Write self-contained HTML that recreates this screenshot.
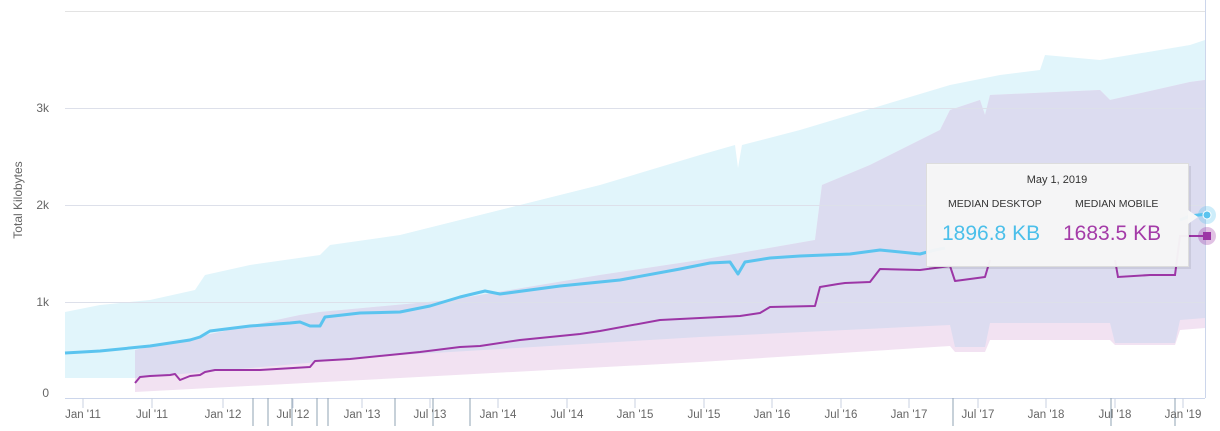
<!DOCTYPE html><html><head><style>body{margin:0;background:#fff;font-family:"Liberation Sans",sans-serif}</style></head><body>
<svg width="1220" height="426" xmlns="http://www.w3.org/2000/svg" font-family="Liberation Sans, sans-serif">
<defs>
<clipPath id="dk"><polygon points="65,312 100,305 150,300 195,290 205,275 250,265 320,255 330,245 400,235 480,215 600,185 700,155 735,145 738,168 742,145 800,130 900,100 950,85 1000,75 1040,70 1045,55 1100,60 1190,45 1205,40 1205,318 1180,320 1175,343 1115,343 1110,323 990,323 985,347 955,347 950,325 700,337 400,355 135,378 65,378"/></clipPath>
</defs>
<g stroke="#e3e3e3" stroke-width="1">
<line x1="65" y1="11.5" x2="1205" y2="11.5"/><line x1="65" y1="108.5" x2="1205" y2="108.5"/><line x1="65" y1="205.5" x2="1205" y2="205.5"/><line x1="65" y1="302.5" x2="1205" y2="302.5"/>
</g>
<polygon fill="#e1f5fb" points="65,312 100,305 150,300 195,290 205,275 250,265 320,255 330,245 400,235 480,215 600,185 700,155 735,145 738,168 742,145 800,130 900,100 950,85 1000,75 1040,70 1045,55 1100,60 1190,45 1205,40 1205,318 1180,320 1175,343 1115,343 1110,323 990,323 985,347 955,347 950,325 700,337 400,355 135,378 65,378"/>
<polygon id="mb" fill="#f2e2f2" points="135,350 300,315 320,312 450,300 600,275 700,260 815,240 822,185 870,165 900,150 940,130 950,110 980,100 985,115 990,95 1100,90 1110,100 1190,82 1205,80 1205,328 1180,330 1175,345 1115,345 1110,340 990,340 985,352 955,352 950,346 700,362 400,378 135,392"/>
<g clip-path="url(#dk)"><polygon fill="#dcdcf0" points="135,350 300,315 320,312 450,300 600,275 700,260 815,240 822,185 870,165 900,150 940,130 950,110 980,100 985,115 990,95 1100,90 1110,100 1190,82 1205,80 1205,328 1180,330 1175,345 1115,345 1110,340 990,340 985,352 955,352 950,346 700,362 400,378 135,392"/></g>
<g stroke="#dde0ea" stroke-width="1">
<line x1="65" y1="302.5" x2="1205" y2="302.5"/><line x1="65" y1="205.5" x2="1205" y2="205.5"/><line x1="65" y1="108.5" x2="1205" y2="108.5"/></g>
<line x1="65" y1="398.5" x2="1205" y2="398.5" stroke="#ccd6eb"/>
<line x1="1205.5" y1="0" x2="1205.5" y2="398" stroke="#ccd6eb"/>
<g stroke="#c8d2e0"><line x1="83" y1="398" x2="83" y2="408"/><line x1="152" y1="398" x2="152" y2="408"/><line x1="223" y1="398" x2="223" y2="408"/><line x1="293" y1="398" x2="293" y2="408"/><line x1="362" y1="398" x2="362" y2="408"/><line x1="430" y1="398" x2="430" y2="408"/><line x1="498" y1="398" x2="498" y2="408"/><line x1="567" y1="398" x2="567" y2="408"/><line x1="635" y1="398" x2="635" y2="408"/><line x1="704" y1="398" x2="704" y2="408"/><line x1="772" y1="398" x2="772" y2="408"/><line x1="841" y1="398" x2="841" y2="408"/><line x1="909" y1="398" x2="909" y2="408"/><line x1="978" y1="398" x2="978" y2="408"/><line x1="1046" y1="398" x2="1046" y2="408"/><line x1="1115" y1="398" x2="1115" y2="408"/><line x1="1183" y1="398" x2="1183" y2="408"/></g>
<g stroke="#8fa3b3"><line x1="253" y1="398" x2="253" y2="426"/><line x1="268" y1="398" x2="268" y2="426"/><line x1="292" y1="398" x2="292" y2="426"/><line x1="317" y1="398" x2="317" y2="426"/><line x1="328" y1="398" x2="328" y2="426"/><line x1="395" y1="398" x2="395" y2="426"/><line x1="433" y1="398" x2="433" y2="426"/><line x1="470" y1="398" x2="470" y2="426"/><line x1="953" y1="398" x2="953" y2="426"/><line x1="1111" y1="398" x2="1111" y2="426"/><line x1="1175" y1="398" x2="1175" y2="426"/></g>
<polyline fill="none" stroke="#5bc4ef" stroke-width="3" stroke-linejoin="round" points="65,353 100,351 150,346 190,340 200,337 210,331 250,326 290,323 300,322 310,326 320,326 325,317 360,313 400,312 430,306 460,297 485,291 500,294 560,286 620,280 680,269 710,263 730,262 738,274 745,262 770,258 800,256 850,254 880,250 920,254 935,250 945,248"/>
<polyline fill="none" stroke="#5bc4ef" stroke-width="3" points="1180,220 1190,216 1207,214"/>
<polyline fill="none" stroke="#9c36a6" stroke-width="2" stroke-linejoin="round" points="135,383 140,377 150,376 170,375 175,374 180,380 190,376 200,375 205,372 215,370 260,370 310,367 315,361 350,359 420,352 460,347 480,346 520,340 580,334 600,331 660,320 700,318 740,316 760,313 770,307 815,306 820,287 838,284 845,283 870,282 880,269 920,270 950,266 955,281 985,277 990,260"/>
<polyline fill="none" stroke="#9c36a6" stroke-width="2" points="1115,260 1118,277 1150,275 1175,275 1180,236 1207,236"/>
<circle cx="1207" cy="215" r="9" fill="#5bc4ef" opacity="0.3"/><circle cx="1207" cy="215" r="4" fill="#5bc4ef" stroke="#fff"/>
<circle cx="1207" cy="236" r="9" fill="#9c36a6" opacity="0.3"/><rect x="1203" y="232" width="8" height="8" fill="#9c36a6"/>
<g fill="#666" font-size="12"><text x="49" y="112" text-anchor="end">3k</text><text x="49" y="209" text-anchor="end">2k</text><text x="49" y="306" text-anchor="end">1k</text><text x="49" y="397" text-anchor="end">0</text></g>
<text transform="translate(22,200) rotate(-90)" text-anchor="middle" fill="#666" font-size="12">Total Kilobytes</text>
<g fill="#666" font-size="11.5" text-anchor="middle"><text x="83" y="418">Jan '11</text><text x="152" y="418">Jul '11</text><text x="223" y="418">Jan '12</text><text x="293" y="418">Jul '12</text><text x="362" y="418">Jan '13</text><text x="430" y="418">Jul '13</text><text x="498" y="418">Jan '14</text><text x="567" y="418">Jul '14</text><text x="635" y="418">Jan '15</text><text x="704" y="418">Jul '15</text><text x="772" y="418">Jan '16</text><text x="841" y="418">Jul '16</text><text x="909" y="418">Jan '17</text><text x="978" y="418">Jul '17</text><text x="1046" y="418">Jan '18</text><text x="1115" y="418">Jul '18</text><text x="1183" y="418">Jan '19</text></g>
<rect x="927" y="164" width="262" height="103" fill="#000" opacity="0.08" transform="translate(2,2)"/>
<rect x="926.5" y="163.5" width="262" height="103" fill="#f7f7f7" fill-opacity="0.96" stroke="#ddd"/>
<polygon points="1188,210 1198,217 1188,224" fill="#f7f7f7"/>
<text x="1057" y="183" text-anchor="middle" font-size="11" fill="#333">May 1, 2019</text>
<text x="948" y="207" font-size="10.5" fill="#333">MEDIAN DESKTOP</text>
<text x="1075" y="207" font-size="10.5" fill="#333">MEDIAN MOBILE</text>
<text x="942" y="240" font-size="21" fill="#4bbfea">1896.8 KB</text>
<text x="1063" y="240" font-size="21" fill="#a43ba8">1683.5 KB</text>
</svg></body></html>
